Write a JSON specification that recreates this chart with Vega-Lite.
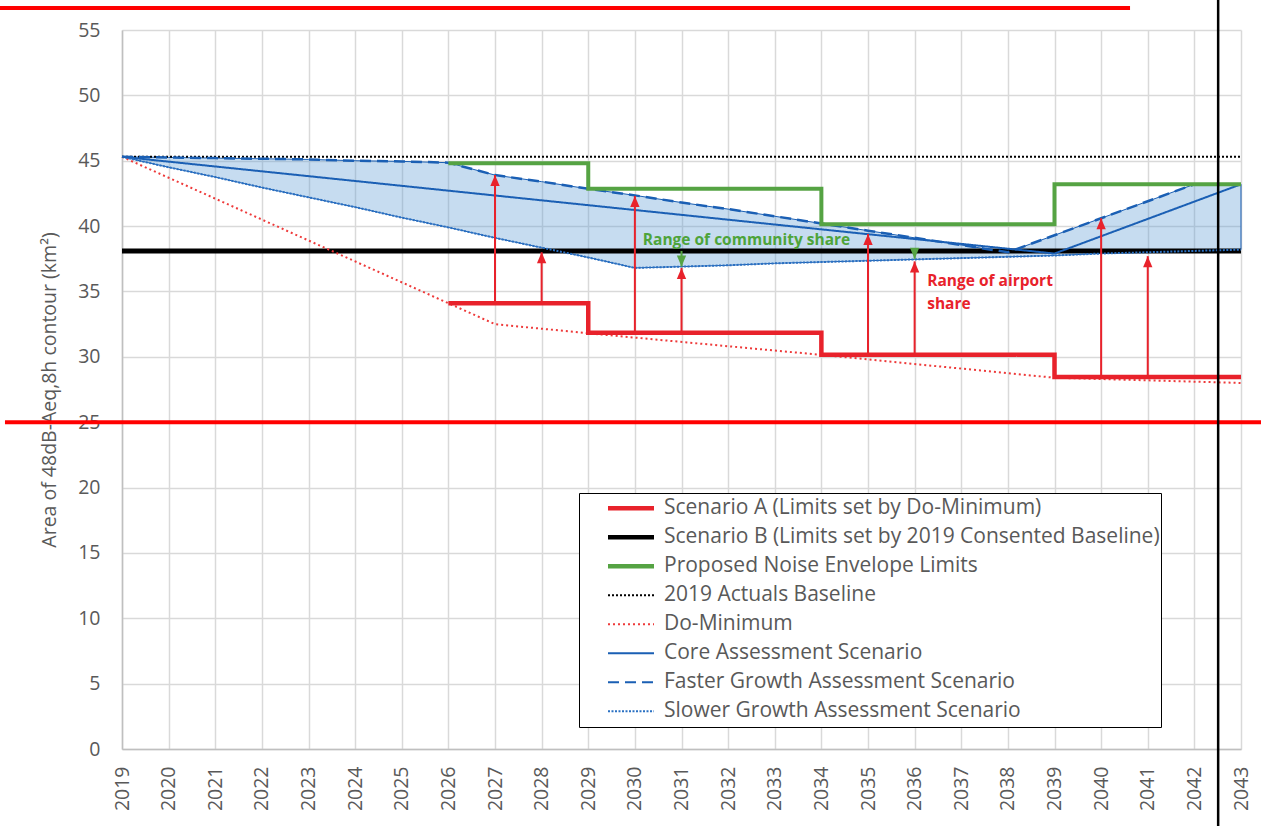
{
  "$schema": "https://vega.github.io/schema/vega-lite/v6.json",
  "width": 1119,
  "height": 719,
  "autosize": {"type": "none"},
  "padding": {"left": 122, "top": 30, "right": 20, "bottom": 77},
  "background": "white",
  "config": {
    "font": "Open Sans",
    "view": {"stroke": null},
    "axis": {"labelFont": "Open Sans", "titleFont": "Open Sans"}
  },
  "datasets": {
    "series": [
      {"series": "Scenario B (Limits set by 2019 Consented Baseline)", "year": 2019, "value": 38.1},
      {"series": "Scenario B (Limits set by 2019 Consented Baseline)", "year": 2043, "value": 38.1},
      {"series": "2019 Actuals Baseline", "year": 2019, "value": 45.3},
      {"series": "2019 Actuals Baseline", "year": 2043, "value": 45.3},
      {"series": "Do-Minimum", "year": 2019, "value": 45.3},
      {"series": "Do-Minimum", "year": 2027, "value": 32.5},
      {"series": "Do-Minimum", "year": 2029, "value": 31.8},
      {"series": "Do-Minimum", "year": 2034, "value": 30.15},
      {"series": "Do-Minimum", "year": 2039, "value": 28.4},
      {"series": "Do-Minimum", "year": 2043, "value": 28.0},
      {"series": "Core Assessment Scenario", "year": 2019, "value": 45.3},
      {"series": "Core Assessment Scenario", "year": 2039, "value": 37.9},
      {"series": "Core Assessment Scenario", "year": 2043, "value": 43.2},
      {"series": "Faster Growth Assessment Scenario", "year": 2019, "value": 45.3},
      {"series": "Faster Growth Assessment Scenario", "year": 2020, "value": 45.25},
      {"series": "Faster Growth Assessment Scenario", "year": 2021, "value": 45.2},
      {"series": "Faster Growth Assessment Scenario", "year": 2022, "value": 45.15},
      {"series": "Faster Growth Assessment Scenario", "year": 2023, "value": 45.1},
      {"series": "Faster Growth Assessment Scenario", "year": 2024, "value": 45.0},
      {"series": "Faster Growth Assessment Scenario", "year": 2025, "value": 44.95},
      {"series": "Faster Growth Assessment Scenario", "year": 2026, "value": 44.85},
      {"series": "Faster Growth Assessment Scenario", "year": 2027, "value": 43.9},
      {"series": "Faster Growth Assessment Scenario", "year": 2028, "value": 43.4},
      {"series": "Faster Growth Assessment Scenario", "year": 2029, "value": 42.85},
      {"series": "Faster Growth Assessment Scenario", "year": 2030, "value": 42.35},
      {"series": "Faster Growth Assessment Scenario", "year": 2031, "value": 41.8},
      {"series": "Faster Growth Assessment Scenario", "year": 2032, "value": 41.3},
      {"series": "Faster Growth Assessment Scenario", "year": 2033, "value": 40.75},
      {"series": "Faster Growth Assessment Scenario", "year": 2034, "value": 40.2},
      {"series": "Faster Growth Assessment Scenario", "year": 2035, "value": 39.65},
      {"series": "Faster Growth Assessment Scenario", "year": 2036, "value": 39.1},
      {"series": "Faster Growth Assessment Scenario", "year": 2037, "value": 38.55},
      {"series": "Faster Growth Assessment Scenario", "year": 2038, "value": 38.0},
      {"series": "Faster Growth Assessment Scenario", "year": 2039, "value": 39.3},
      {"series": "Faster Growth Assessment Scenario", "year": 2040, "value": 40.6},
      {"series": "Faster Growth Assessment Scenario", "year": 2041, "value": 41.9},
      {"series": "Faster Growth Assessment Scenario", "year": 2042, "value": 43.2},
      {"series": "Faster Growth Assessment Scenario", "year": 2043, "value": 43.2},
      {"series": "Slower Growth Assessment Scenario", "year": 2019, "value": 45.3},
      {"series": "Slower Growth Assessment Scenario", "year": 2020, "value": 44.5},
      {"series": "Slower Growth Assessment Scenario", "year": 2021, "value": 43.75},
      {"series": "Slower Growth Assessment Scenario", "year": 2022, "value": 42.95},
      {"series": "Slower Growth Assessment Scenario", "year": 2023, "value": 42.2},
      {"series": "Slower Growth Assessment Scenario", "year": 2024, "value": 41.45},
      {"series": "Slower Growth Assessment Scenario", "year": 2025, "value": 40.65},
      {"series": "Slower Growth Assessment Scenario", "year": 2026, "value": 39.9},
      {"series": "Slower Growth Assessment Scenario", "year": 2027, "value": 39.1},
      {"series": "Slower Growth Assessment Scenario", "year": 2028, "value": 38.35},
      {"series": "Slower Growth Assessment Scenario", "year": 2029, "value": 37.6},
      {"series": "Slower Growth Assessment Scenario", "year": 2030, "value": 36.8},
      {"series": "Slower Growth Assessment Scenario", "year": 2031, "value": 36.9},
      {"series": "Slower Growth Assessment Scenario", "year": 2032, "value": 37.0},
      {"series": "Slower Growth Assessment Scenario", "year": 2033, "value": 37.15},
      {"series": "Slower Growth Assessment Scenario", "year": 2034, "value": 37.25},
      {"series": "Slower Growth Assessment Scenario", "year": 2035, "value": 37.35},
      {"series": "Slower Growth Assessment Scenario", "year": 2036, "value": 37.45},
      {"series": "Slower Growth Assessment Scenario", "year": 2037, "value": 37.55},
      {"series": "Slower Growth Assessment Scenario", "year": 2038, "value": 37.65},
      {"series": "Slower Growth Assessment Scenario", "year": 2039, "value": 37.75},
      {"series": "Slower Growth Assessment Scenario", "year": 2040, "value": 37.9},
      {"series": "Slower Growth Assessment Scenario", "year": 2041, "value": 38.0},
      {"series": "Slower Growth Assessment Scenario", "year": 2042, "value": 38.1},
      {"series": "Slower Growth Assessment Scenario", "year": 2043, "value": 38.2},
      {"series": "Scenario A (Limits set by Do-Minimum)", "year": 2026, "value": 34.1},
      {"series": "Scenario A (Limits set by Do-Minimum)", "year": 2029, "value": 31.85},
      {"series": "Scenario A (Limits set by Do-Minimum)", "year": 2034, "value": 30.15},
      {"series": "Scenario A (Limits set by Do-Minimum)", "year": 2039, "value": 28.45},
      {"series": "Scenario A (Limits set by Do-Minimum)", "year": 2043, "value": 28.45},
      {"series": "Proposed Noise Envelope Limits", "year": 2026, "value": 44.8},
      {"series": "Proposed Noise Envelope Limits", "year": 2029, "value": 42.85},
      {"series": "Proposed Noise Envelope Limits", "year": 2034, "value": 40.15},
      {"series": "Proposed Noise Envelope Limits", "year": 2039, "value": 43.2},
      {"series": "Proposed Noise Envelope Limits", "year": 2043, "value": 43.2}
    ],
    "arrows": [
      {"year": 2027, "value": 34.1, "tip": 43.9, "kind": "airport"},
      {"year": 2028, "value": 34.1, "tip": 38.0, "kind": "airport"},
      {"year": 2030, "value": 31.85, "tip": 42.3, "kind": "airport"},
      {"year": 2031, "value": 31.85, "tip": 36.8, "kind": "airport"},
      {"year": 2035, "value": 30.15, "tip": 39.4, "kind": "airport"},
      {"year": 2036, "value": 30.15, "tip": 37.3, "kind": "airport"},
      {"year": 2040, "value": 28.45, "tip": 40.6, "kind": "airport"},
      {"year": 2041, "value": 28.45, "tip": 37.7, "kind": "airport"},
      {"year": 2031, "value": 38.1, "tip": 36.9, "kind": "community"},
      {"year": 2036, "value": 38.1, "tip": 37.5, "kind": "community"}
    ],
    "notes": [
      {"year": 2030.17, "value": 38.95, "label": "Range of community share", "kind": "community"},
      {"year": 2036.27, "value": 35.8, "label": "Range of airport", "kind": "airport"},
      {"year": 2036.27, "value": 34.05, "label": "share", "kind": "airport"}
    ],
    "hmarks": [
      {"year": 2016.49, "year2": 2043.45, "value": 25},
      {"year": 2016.38, "year2": 2040.62, "value": 56.68}
    ],
    "vmarks": [
      {"year": 2042.51, "value": 57.5, "value2": -6}
    ]
  },
  "encoding": {
    "x": {
      "field": "year",
      "type": "quantitative",
      "scale": {"domain": [2019, 2043], "nice": false, "zero": false},
      "axis": {
        "values": [2019, 2020, 2021, 2022, 2023, 2024, 2025, 2026, 2027, 2028, 2029, 2030, 2031, 2032, 2033, 2034, 2035, 2036, 2037, 2038, 2039, 2040, 2041, 2042, 2043],
        "format": "d",
        "title": null,
        "labelAngle": 270,
        "labelFontSize": 19.5,
        "labelColor": "#595959",
        "labelPadding": 17,
        "labelOverlap": false,
        "labelFlush": false,
        "ticks": false,
        "grid": true,
        "gridColor": "#d9d9d9",
        "gridWidth": 1.5,
        "domainColor": "#bfbfbf",
        "domainWidth": 1.5
      }
    },
    "y": {
      "field": "value",
      "type": "quantitative",
      "scale": {"domain": [0, 55], "nice": false},
      "axis": {
        "values": [0, 5, 10, 15, 20, 25, 30, 35, 40, 45, 50, 55],
        "title": "Area of 48dB-Aeq,8h contour (km²)",
        "titleFontSize": 19.5,
        "titleFontWeight": "normal",
        "titleColor": "#595959",
        "titlePadding": 18,
        "labelFontSize": 19.5,
        "labelColor": "#595959",
        "labelPadding": 22,
        "ticks": false,
        "grid": true,
        "gridColor": "#d9d9d9",
        "gridWidth": 1.5,
        "domainColor": "#bfbfbf",
        "domainWidth": 1.5
      }
    },
    "color": {
      "field": "series",
      "type": "nominal",
      "scale": {
        "domain": ["Scenario A (Limits set by Do-Minimum)", "Scenario B (Limits set by 2019 Consented Baseline)", "Proposed Noise Envelope Limits", "2019 Actuals Baseline", "Do-Minimum", "Core Assessment Scenario", "Faster Growth Assessment Scenario", "Slower Growth Assessment Scenario"],
        "range": ["#e8222b", "#000000", "#55a343", "#000000", "#ee3a3a", "#1a5fb4", "#1a5fb4", "#2a70c2"]
      },
      "legend": {
        "title": null,
        "orient": "none",
        "legendX": 457,
        "legendY": 463,
        "symbolType": "stroke",
        "symbolSize": 2116,
        "symbolOffset": 40.5,
        "symbolStrokeWidth": {"expr": "datum.value === 'Scenario A (Limits set by Do-Minimum)' || datum.value === 'Scenario B (Limits set by 2019 Consented Baseline)' || datum.value === 'Proposed Noise Envelope Limits' ? 4.5 : 2"},
        "clipHeight": 28.35,
        "rowPadding": 0,
        "padding": 1,
        "labelOffset": 22.5,
        "labelFontSize": 21,
        "labelColor": "#595959",
        "labelFont": "Open Sans",
        "labelLimit": 0,
        "strokeColor": "#000000",
        "fillColor": "#ffffff"
      }
    },
    "strokeDash": {
      "field": "series",
      "type": "nominal",
      "scale": {
        "domain": ["Scenario A (Limits set by Do-Minimum)", "Scenario B (Limits set by 2019 Consented Baseline)", "Proposed Noise Envelope Limits", "2019 Actuals Baseline", "Do-Minimum", "Core Assessment Scenario", "Faster Growth Assessment Scenario", "Slower Growth Assessment Scenario"],
        "range": [[1, 0], [1, 0], [1, 0], [2, 2], [2, 3], [1, 0], [11, 6], [2, 1.5]]
      }
    }
  },
  "layer": [
    {
      "data": {"name": "series"},
      "transform": [
        {"filter": "datum.series === 'Faster Growth Assessment Scenario' || datum.series === 'Slower Growth Assessment Scenario'"},
        {"pivot": "series", "value": "value", "groupby": ["year"]}
      ],
      "mark": {"type": "area", "fill": "#5b9bd5", "fillOpacity": 0.35, "stroke": "#1a5fb4", "strokeWidth": 1},
      "encoding": {
        "y": {"field": "Slower Growth Assessment Scenario", "type": "quantitative", "scale": {"domain": [0, 55], "nice": false}},
        "y2": {"field": "Faster Growth Assessment Scenario"},
        "color": null,
        "strokeDash": null
      }
    },
    {
      "data": {"name": "series"},
      "transform": [
        {"filter": "datum.series === 'Scenario B (Limits set by 2019 Consented Baseline)'"}
      ],
      "mark": {"type": "line", "strokeWidth": 5}
    },
    {
      "data": {"name": "series"},
      "transform": [
        {"filter": "datum.series === '2019 Actuals Baseline' || datum.series === 'Do-Minimum' || datum.series === 'Core Assessment Scenario' || datum.series === 'Slower Growth Assessment Scenario'"}
      ],
      "mark": {"type": "line", "strokeWidth": 2}
    },
    {
      "data": {"name": "series"},
      "transform": [
        {"filter": "datum.series === 'Faster Growth Assessment Scenario'"}
      ],
      "mark": {"type": "line", "strokeWidth": 2.5}
    },
    {
      "data": {"name": "series"},
      "transform": [
        {"filter": "datum.series === 'Proposed Noise Envelope Limits'"}
      ],
      "mark": {"type": "line", "interpolate": "step-after", "strokeWidth": 4}
    },
    {
      "data": {"name": "series"},
      "transform": [
        {"filter": "datum.series === 'Scenario A (Limits set by Do-Minimum)'"}
      ],
      "mark": {"type": "line", "interpolate": "step-after", "strokeWidth": 4.5}
    },
    {
      "data": {"name": "arrows"},
      "transform": [{"filter": "datum.kind === 'airport'"}],
      "mark": {"type": "rule", "color": "#e8222b", "strokeWidth": 2},
      "encoding": {
        "y2": {"field": "tip"},
        "color": null,
        "strokeDash": null
      }
    },
    {
      "data": {"name": "arrows"},
      "transform": [{"filter": "datum.kind === 'airport'"}],
      "mark": {"type": "point", "shape": "M0,-1L0.85,1L-0.85,1Z", "filled": true, "size": 121, "opacity": 1, "color": "#e8222b", "strokeWidth": 0, "yOffset": 5.5},
      "encoding": {
        "y": {"field": "tip", "type": "quantitative", "scale": {"domain": [0, 55], "nice": false}},
        "color": null,
        "strokeDash": null
      }
    },
    {
      "data": {"name": "arrows"},
      "transform": [{"filter": "datum.kind === 'community'"}],
      "mark": {"type": "rule", "color": "#55a343", "strokeWidth": 2},
      "encoding": {
        "y2": {"field": "tip"},
        "color": null,
        "strokeDash": null
      }
    },
    {
      "data": {"name": "arrows"},
      "transform": [{"filter": "datum.kind === 'community'"}],
      "mark": {"type": "point", "shape": "M0,1L0.85,-1L-0.85,-1Z", "filled": true, "size": 121, "opacity": 1, "color": "#55a343", "strokeWidth": 0, "yOffset": -5.5},
      "encoding": {
        "y": {"field": "tip", "type": "quantitative", "scale": {"domain": [0, 55], "nice": false}},
        "color": null,
        "strokeDash": null
      }
    },
    {
      "data": {"name": "notes"},
      "transform": [{"filter": "datum.kind === 'community'"}],
      "mark": {"type": "text", "align": "left", "baseline": "middle", "font": "Open Sans", "fontSize": 15.5, "fontWeight": "bold", "color": "#4ea43a"},
      "encoding": {"text": {"field": "label"}, "color": null, "strokeDash": null}
    },
    {
      "data": {"name": "notes"},
      "transform": [{"filter": "datum.kind === 'airport'"}],
      "mark": {"type": "text", "align": "left", "baseline": "middle", "font": "Open Sans", "fontSize": 15.5, "fontWeight": "bold", "color": "#e8222b"},
      "encoding": {"text": {"field": "label"}, "color": null, "strokeDash": null}
    },
    {
      "data": {"name": "hmarks"},
      "mark": {"type": "rule", "color": "#ff0000", "strokeWidth": 4},
      "encoding": {"x2": {"field": "year2"}, "color": null, "strokeDash": null}
    },
    {
      "data": {"name": "vmarks"},
      "mark": {"type": "rule", "color": "#000000", "strokeWidth": 2.5},
      "encoding": {"y2": {"field": "value2"}, "color": null, "strokeDash": null}
    }
  ]
}
